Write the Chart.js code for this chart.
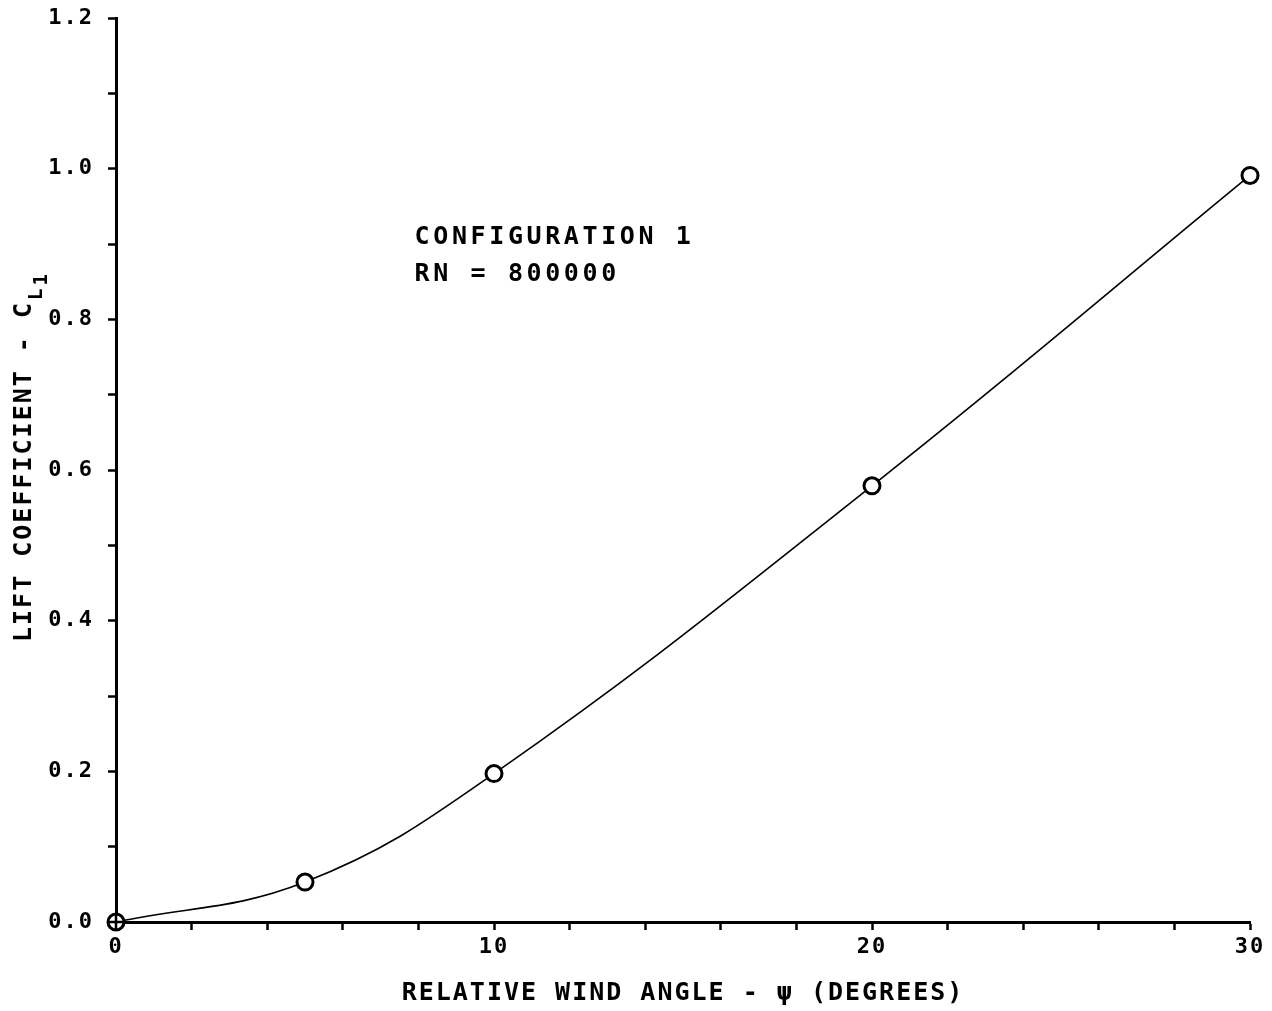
<!DOCTYPE html>
<html><head><meta charset="utf-8">
<script src="https://cdn.jsdelivr.net/npm/chart.js@4.4.1/dist/chart.umd.min.js"></script>
<style>html,body{margin:0;padding:0;background:#fff;}#wrap{width:1272px;height:1011px;position:relative;}</style>
</head><body><div id="wrap"><canvas id="c"></canvas></div>
<script>
// ---- data ----
const windAngle = [0, 5, 10, 20, 30];
const liftCoefficient = [0, 0.053, 0.197, 0.579, 0.991];
const xTickLabels = ['0', '10', '20', '30'];
const yTickLabels = ['0.0', '0.2', '0.4', '0.6', '0.8', '1.0', '1.2'];
const xTitle = 'RELATIVE WIND ANGLE - \u03C8 (DEGREES)';
const yTitleMain = 'LIFT COEFFICIENT - C';
const yTitleSubs = ['L', '1'];
const noteLines = ['CONFIGURATION 1', 'RN = 800000'];

const FONT = '"DejaVu Sans Mono", "Liberation Mono", monospace';
const pts = windAngle.map((x, i) => ({x: x, y: liftCoefficient[i]}));

const spacing = {
  id: 'spacing',
  beforeLayout(chart) { chart.ctx.letterSpacing = '2px'; },
  beforeDraw(chart) {
    const ctx = chart.ctx;
    ctx.letterSpacing = '2px';
    ctx.save();
    ctx.fillStyle = '#fff';
    ctx.fillRect(0, 0, chart.width, chart.height);
    ctx.restore();
  }
};

const texts = {
  id: 'texts',
  afterDraw(chart) {
    const ctx = chart.ctx;
    const xs = chart.scales.x, ys = chart.scales.y;
    ctx.save();
    ctx.fillStyle = '#000';
    // annotation
    ctx.letterSpacing = '3.6px';
    ctx.font = 'bold 25px ' + FONT;
    ctx.textAlign = 'left';
    ctx.textBaseline = 'middle';
    const nx = xs.getPixelForValue(7.9);
    ctx.fillText(noteLines[0], nx, ys.getPixelForValue(0.908));
    ctx.fillText(noteLines[1], nx, ys.getPixelForValue(0.859));
    ctx.restore();

    // y-axis title with subscripts
    ctx.save();
    ctx.fillStyle = '#000';
    ctx.translate(24, 642);
    ctx.rotate(-Math.PI / 2);
    ctx.letterSpacing = '2px';
    ctx.font = 'bold 25px ' + FONT;
    ctx.textAlign = 'left';
    ctx.textBaseline = 'middle';
    ctx.fillText(yTitleMain, 0, 0);
    const w = ctx.measureText(yTitleMain).width;
    ctx.font = 'bold 19px ' + FONT;
    ctx.fillText(yTitleSubs[0], w + 1, 13);
    const wl = ctx.measureText(yTitleSubs[0]).width;
    ctx.fillText(yTitleSubs[1], w + 1 + wl + 1, 18);
    ctx.restore();
  }
};

new Chart(document.getElementById('c'), {
  type: 'scatter',
  data: {
    datasets: [
      { // origin plus inside circle
        data: [pts[0]],
        pointStyle: 'cross',
        pointRadius: 7,
        pointBorderWidth: 2.5,
        pointBorderColor: '#000',
        showLine: false,
        clip: false
      },
      {
        data: pts,
        pointStyle: 'circle',
        pointRadius: 8,
        pointBorderWidth: 3,
        pointBorderColor: '#000',
        pointBackgroundColor: '#fff',
        showLine: false,
        clip: false
      },
      {
        data: pts,
        showLine: true,
        borderColor: '#000',
        borderWidth: 1.6,
        pointRadius: 0,
        tension: 0.4,
        fill: false,
        clip: false
      }
    ]
  },
  options: {
    responsive: true,
    maintainAspectRatio: false,
    animation: false,
    events: [],
    layout: { padding: { left: 0, right: 22, top: 18, bottom: 0 } },
    plugins: { legend: { display: false }, tooltip: { enabled: false } },
    scales: {
      x: {
        type: 'linear',
        min: 0, max: 30,
        afterFit(s) { s.height = 89; s.paddingLeft = 0; s.paddingRight = 0; },
        ticks: {
          stepSize: 2,
          autoSkip: false,
          maxRotation: 0,
          padding: 4,
          color: '#000',
          font: { family: FONT, size: 22, weight: 'bold' },
          callback(v) { const s = String(v); return xTickLabels.includes(s) ? s : ''; }
        },
        grid: {
          drawOnChartArea: false,
          drawTicks: true,
          tickLength: 8,
          tickWidth: 2.5,
          color: '#000'
        },
        border: { display: true, color: '#000', width: 3 },
        title: {
          display: true,
          text: xTitle,
          color: '#000',
          font: { family: FONT, size: 25, weight: 'bold' },
          padding: { top: 0, bottom: 3 }
        }
      },
      y: {
        type: 'linear',
        min: 0, max: 1.2,
        afterFit(s) { s.width = 116; s.paddingTop = 0; s.paddingBottom = 0; },
        ticks: {
          stepSize: 0.1,
          autoSkip: false,
          padding: 14,
          color: '#000',
          font: { family: FONT, size: 22, weight: 'bold' },
          callback(v) {
            const s = v.toFixed(1);
            return (Math.abs(v * 10 - Math.round(v * 10)) < 1e-6 && yTickLabels.includes(s)) ? s : '';
          }
        },
        grid: {
          drawOnChartArea: false,
          drawTicks: true,
          tickLength: 8,
          tickWidth: 2.5,
          color: '#000'
        },
        border: { display: true, color: '#000', width: 3 }
      }
    }
  },
  plugins: [spacing, texts]
});
</script>
</body></html>
